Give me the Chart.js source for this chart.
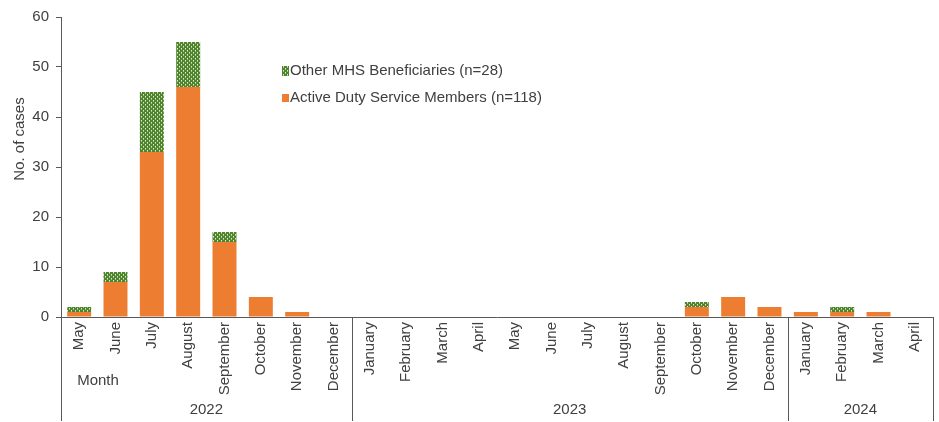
<!DOCTYPE html>
<html>
<head>
<meta charset="utf-8">
<script src="https://cdn.jsdelivr.net/npm/chart.js@4.4.1/dist/chart.umd.min.js"></script>
<style>
html,body{margin:0;padding:0;background:#fff;}
#wrap{width:939px;height:422px;position:relative;}
</style>
</head>
<body>
<div id="wrap"><canvas id="c" width="939" height="422"></canvas></div>
<script>
const months = ["May","June","July","August","September","October","November","December",
  "January","February","March","April","May","June","July","August","September","October","November","December",
  "January","February","March","April"];
const years = [
  {label:"2022", start:0, count:8},
  {label:"2023", start:8, count:12},
  {label:"2024", start:20, count:4}
];
const activeDuty = [1,7,33,46,15,4,1,0, 0,0,0,0,0,0,0,0,0,2,4,2, 1,1,1,0];
const otherMHS   = [1,2,12,9,2,0,0,0, 0,0,0,0,0,0,0,0,0,1,0,0, 0,1,0,0];
const seriesLabels = ["Active Duty Service Members (n=118)", "Other MHS Beneficiaries (n=28)"];
const yTicks = [0,10,20,30,40,50,60];
const yTitle = "No. of cases";
const xTitle = "Month";

function makePattern(){
  const p = document.createElement('canvas');
  p.width = 4; p.height = 4;
  const g = p.getContext('2d');
  g.fillStyle = '#4f832f';
  g.fillRect(0,0,4,4);
  g.fillStyle = '#dcedcf';
  g.fillRect(1,0,1,1);
  g.fillRect(3,2,1,1);
  g.fillStyle = '#9cc57e';
  g.fillRect(1,1,1,1);
  g.fillRect(3,3,1,1);
  return g.createPattern(p,'repeat');
}
const greenPattern = makePattern();
const orange = '#ED7D31';
const axisColor = '#595959';
const textColor = '#404040';
const FONT = "'Liberation Sans', Arial, sans-serif";
const FS = 15;

const groupPlugin = {
  id:'groups',
  afterDraw(chart){
    const ctx = chart.ctx;
    const area = chart.chartArea;
    const n = months.length;
    const w = (area.right - area.left)/n;
    ctx.save();
    ctx.strokeStyle = axisColor;
    ctx.lineWidth = 1;
    const bottom = 421;
    const xs = [0];
    years.forEach(y=>xs.push(y.start+y.count));
    xs.forEach(i=>{
      const x = Math.round(area.left + i*w) + 0.5;
      ctx.beginPath();
      ctx.moveTo(x, area.bottom);
      ctx.lineTo(x, bottom);
      ctx.stroke();
    });
    ctx.fillStyle = textColor;
    ctx.font = FS + "px " + FONT;
    ctx.textAlign = 'center';
    ctx.textBaseline = 'middle';
    years.forEach(y=>{
      const cx = area.left + (y.start + y.count/2)*w;
      ctx.fillText(y.label, cx, 410);
    });
    ctx.fillText(xTitle, 98, 381);
    // y title
    ctx.save();
    ctx.translate(20, 139);
    ctx.rotate(-Math.PI/2);
    ctx.fillText(yTitle, 0, 0);
    ctx.restore();
    // legend
    const ds = chart.data.datasets;
    const items = [ds[1], ds[0]];
    const ys = [71, 98];
    ctx.textAlign = 'left';
    items.forEach((d,k)=>{
      ctx.fillStyle = d.backgroundColor;
      if (k === 0) ctx.fillRect(282, ys[k]-5, 7, 10);
      else ctx.fillRect(282, ys[k]-4, 7, 8);
      ctx.fillStyle = textColor;
      ctx.fillText(d.label, 290, ys[k]);
    });
    ctx.restore();
  }
};

new Chart(document.getElementById('c'), {
  type:'bar',
  data:{
    labels: months,
    datasets:[
      {label: seriesLabels[0], data: activeDuty, backgroundColor: orange, borderWidth:0},
      {label: seriesLabels[1], data: otherMHS, backgroundColor: greenPattern, borderWidth:0}
    ]
  },
  options:{
    responsive:false,
    animation:false,
    devicePixelRatio:1,
    layout:{padding:{top:17, right:6, left:0, bottom:0}},
    datasets:{bar:{categoryPercentage:1.0, barPercentage:0.66}},
    plugins:{legend:{display:false}, tooltip:{enabled:false}},
    scales:{
      x:{
        stacked:true,
        grid:{display:false, drawTicks:false},
        border:{display:true, color:axisColor, width:1},
        ticks:{minRotation:90, maxRotation:90, autoSkip:false, padding:5, color:textColor, font:{family:FONT, size:FS}},
        afterFit(s){ s.height = 105; }
      },
      y:{
        stacked:true,
        min:0, max:60,
        afterBuildTicks(s){ s.ticks = yTicks.map(v=>({value:v})); },
        grid:{drawOnChartArea:false, drawTicks:true, tickLength:5, color:axisColor},
        border:{display:true, color:axisColor, width:1},
        ticks:{padding:7, color:textColor, font:{family:FONT, size:FS}},
        title:{display:false},
        afterFit(s){ s.width = 61; }
      }
    }
  },
  plugins:[groupPlugin]
});
</script>
</body>
</html>
